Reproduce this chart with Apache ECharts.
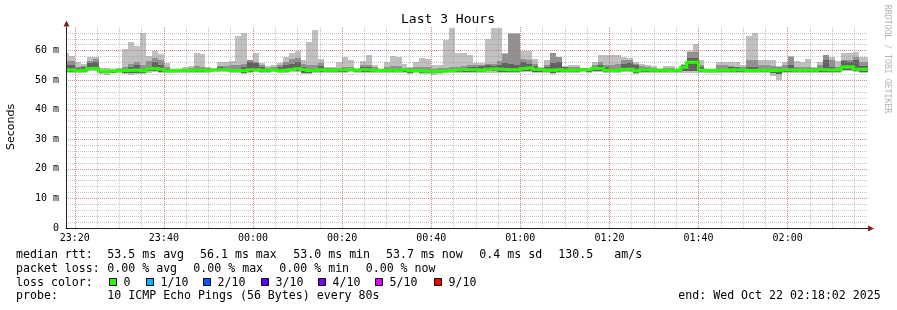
<!DOCTYPE html>
<html><head><meta charset="utf-8">
<script src="https://cdn.jsdelivr.net/npm/echarts@6/dist/echarts.min.js"></script>
<style>html,body{margin:0;padding:0;background:#fff}#c{width:897px;height:310px}</style>
</head><body><div id="c"></div>
<script>
// ---- data (ms), one value per 80 s step ----
const lowSmoke = [
52.6,52.6,52.4,52.6,53.0,53.0,52.0,51.9,52.3,52.4,
52.0,51.9,52.0,52.1,52.6,52.8,52.6,52.3,52.6,52.6,
52.5,52.6,52.5,52.4,52.5,52.8,52.7,52.7,52.3,52.3,
52.2,52.6,52.8,52.6,52.6,52.7,52.3,52.5,52.7,52.8,
52.2,52.1,52.3,52.4,52.4,52.5,52.6,52.6,52.7,52.6,
52.6,52.4,52.4,52.5,52.4,52.4,52.3,52.6,52.2,52.4,
52.1,52.0,51.9,52.1,52.3,52.3,52.4,52.6,52.5,52.5,
52.4,52.6,52.6,52.4,52.4,52.3,52.3,52.9,52.9,52.6,
52.6,52.3,52.2,52.4,52.3,52.4,52.5,52.7,52.6,52.9,
52.9,52.5,52.4,52.5,52.7,52.7,52.2,52.6,52.6,52.5,
52.6,52.5,52.3,52.5,52.6,52.3,52.3,52.4,52.3,52.3,
52.5,52.5,52.4,52.6,52.6,52.3,52.3,52.5,52.3,51.5,
50.0,52.4,52.5,52.4,52.4,52.5,52.3,52.6,52.5,52.6,
52.6,53.0,53.0,52.8,52.6,52.6];
const lowMid = [
52.9,52.9,52.8,52.9,53.3,53.3,52.4,52.3,52.6,52.7,
52.5,52.4,52.5,52.5,53.0,53.1,52.9,52.7,52.9,52.9,
52.8,52.9,52.8,52.8,52.8,53.0,53.0,53.0,52.7,52.7,
52.6,52.9,53.0,52.9,52.9,53.0,52.7,52.8,53.0,53.1,
52.6,52.5,52.7,52.8,52.8,52.8,52.9,52.9,53.0,52.9,
52.9,52.8,52.8,52.8,52.8,52.8,52.7,52.9,52.6,52.7,
52.5,52.4,52.4,52.5,52.7,52.7,52.8,52.9,52.9,52.9,
52.8,53.0,53.0,52.8,52.8,52.7,52.7,53.2,53.2,52.9,
52.9,52.7,52.6,52.8,52.7,52.8,52.8,53.0,52.9,53.2,
53.2,52.8,52.7,52.8,53.0,53.0,52.6,52.9,52.9,52.8,
52.9,52.8,52.7,52.8,53.0,53.2,53.2,52.8,52.7,52.7,
52.8,52.8,52.8,52.9,52.9,52.7,52.7,52.8,52.7,52.4,
52.0,52.8,52.9,52.8,52.8,52.8,52.7,52.9,52.8,52.9,
52.9,53.3,53.3,53.1,52.9,52.9];
const highSmoke = [
59.1,58.3,56.3,55.5,58.0,58.0,54.0,54.0,53.8,54.2,
60.7,63.0,61.6,66.1,58.3,59.9,59.0,55.7,53.8,53.8,
54.3,54.9,59.1,58.9,54.6,53.7,56.3,56.3,56.6,64.8,
65.9,57.0,59.1,55.7,54.9,55.0,55.7,58.0,59.3,60.0,
56.9,62.8,67.0,57.3,54.4,54.5,56.0,58.0,56.7,53.8,
56.5,58.5,55.0,53.8,56.3,58.3,58.0,55.5,54.5,56.2,
57.6,57.2,55.2,55.2,63.6,67.5,59.1,59.1,58.5,55.8,
55.8,63.8,67.6,67.6,59.2,66.1,66.1,59.9,59.9,57.1,
54.6,56.9,59.3,58.0,54.7,55.1,55.1,54.0,53.7,56.3,
58.5,58.4,58.6,58.5,57.8,57.5,56.2,55.5,55.0,54.8,
53.8,54.7,54.7,53.8,55.4,59.8,62.1,56.8,53.8,53.8,
56.2,56.2,56.0,56.3,55.0,64.8,66.1,57.0,57.0,56.8,
54.9,56.0,58.3,56.4,56.0,57.3,54.3,56.3,58.5,58.0,
56.4,59.1,59.1,59.5,57.7,57.7];
const highMid = [
56.5,56.5,54.3,54.8,56.5,57.2,53.5,53.4,53.6,53.8,
54.5,55.5,56.2,55.3,56.4,57.4,56.7,54.5,53.6,53.6,
53.9,54.2,54.7,54.6,54.0,53.6,54.8,54.8,55.0,55.2,
55.4,57.0,56.3,55.3,54.2,54.5,55.2,56.0,57.2,57.5,
55.5,55.3,55.0,55.7,54.0,54.0,54.2,54.5,54.3,53.6,
55.0,55.0,54.5,53.6,54.6,54.8,54.7,54.0,54.0,54.5,
54.6,54.4,53.9,54.0,54.2,54.4,54.6,54.8,55.0,55.0,
55.2,55.5,55.5,56.5,58.9,65.8,65.8,57.3,57.0,55.5,
54.2,55.0,59.2,58.0,54.6,54.6,54.4,53.8,53.6,55.0,
56.0,55.0,55.0,55.5,56.9,56.9,55.5,54.8,54.6,54.2,
53.6,54.0,54.0,53.6,55.3,59.7,59.7,55.2,53.6,53.6,
55.0,55.0,54.8,54.6,54.6,57.0,57.0,55.2,55.2,54.8,
54.3,55.0,58.0,54.6,54.6,54.6,54.0,55.0,58.5,57.0,
54.5,57.0,57.0,58.0,56.3,56.3];
const highDark = [
55.3,55.3,54.0,54.3,55.8,56.2,53.2,53.1,53.3,53.5,
53.8,54.3,55.0,53.8,54.6,56.0,55.0,53.8,53.4,53.5,
53.6,53.8,53.9,53.9,53.6,53.7,54.5,54.2,53.8,53.8,
54.3,56.0,55.8,54.5,53.8,53.9,54.6,55.0,55.5,56.0,
54.5,53.8,53.8,54.8,53.7,53.7,53.8,53.9,53.9,53.6,
54.6,54.6,53.8,53.5,53.8,53.9,53.8,53.8,53.5,53.7,
53.6,53.5,53.4,53.4,53.6,53.7,53.9,54.0,54.3,54.5,
54.8,55.0,54.8,55.3,55.8,55.5,55.0,56.0,55.5,54.8,
53.9,54.6,55.8,56.0,54.3,53.8,53.8,53.8,53.7,54.4,
55.0,54.5,53.8,53.9,55.5,55.8,55.0,54.0,53.9,53.8,
53.6,53.7,53.6,53.6,55.0,57.5,57.5,54.5,53.5,53.5,
53.9,53.9,54.3,54.3,53.9,54.6,54.6,53.9,53.8,53.7,
53.7,53.9,55.3,53.9,53.8,53.8,53.7,54.0,57.0,54.6,
53.9,56.5,56.0,57.0,54.8,54.8];
const medianRtt = [
53.5,53.5,53.2,53.4,54.0,54.0,53.0,53.0,53.1,53.2,
53.3,53.4,53.4,53.2,53.9,53.9,53.7,53.2,53.2,53.3,
53.3,53.4,53.4,53.4,53.3,53.5,53.6,53.6,53.3,53.3,
53.2,53.5,53.5,53.4,53.4,53.5,53.2,53.4,53.6,53.9,
53.6,53.3,53.4,53.5,53.4,53.4,53.5,53.5,53.6,53.4,
53.6,53.5,53.4,53.3,53.4,53.4,53.3,53.5,53.2,53.3,
53.1,53.0,53.0,53.0,53.2,53.3,53.5,53.6,53.6,53.5,
53.4,53.7,53.8,53.7,53.6,53.5,53.5,54.0,54.1,53.7,
53.6,53.4,53.4,53.5,53.4,53.4,53.4,53.6,53.5,54.0,
54.0,53.4,53.3,53.4,53.7,53.7,53.2,53.5,53.5,53.4,
53.4,53.4,53.3,53.4,54.4,56.1,56.1,53.4,53.2,53.2,
53.4,53.4,53.4,53.5,53.5,53.3,53.3,53.4,53.4,53.3,
53.4,53.5,53.5,53.4,53.4,53.4,53.4,53.6,53.5,53.5,
53.5,54.5,54.5,53.7,53.7,53.7];

// legend texts
const legendRows = [
  [["median rtt:",16],["53.5 ms avg",107.3],["56.1 ms max",200],["53.0 ms min",293.3],["53.7 ms now",386],["0.4 ms sd",479.3],["130.5",558.3],["am/s",614.3]],
  [["packet loss:",16],["0.00 % avg",107.3],["0.00 % max",193.3],["0.00 % min",279.3],["0.00 % now",365.7]],
  [["loss color:",16]],
  [["probe:",16],["10 ICMP Echo Pings (56 Bytes) every 80s",107.3],["end: Wed Oct 22 02:18:02 2025",678.3]]
];
const lossLabels = ["0","1/10","2/10","3/10","4/10","5/10","9/10"];
const lossColors = ["#26ff00","#00b8ff","#0059ff","#5e00ff","#7e00ff","#dd00ff","#ff0000"];
const lossBoxX = [109.5,146.5,203.5,261.5,318.5,375.5,434.5];

// ---- time grid ----
const START_MIN = 18 + 2/60;        // 23:18:02, minutes after 23:00
const SPAN_MIN = 180;
const FIRST_STEP_END = 18 + 40/60;  // 23:18:40
const STEP_MIN = 80/60;
const stepEnds = highSmoke.map((_, i) => FIRST_STEP_END + i * STEP_MIN);

const MONO = "'DejaVu Sans Mono', 'Liberation Mono', monospace";
const chart = echarts.init(document.getElementById('c'), null, {renderer: 'canvas'});

function band(lo, hi, color) {
  return {
    type: 'custom', clip: true, silent: true, animation: false, z: 2,
    data: stepEnds.map((t, i) => [t, lo[i], hi[i]]),
    encode: {x: 0, y: [1, 2]},
    renderItem(params, api) {
      const a = api.coord([api.value(0) - STEP_MIN, api.value(2)]);
      const b = api.coord([api.value(0), api.value(1)]);
      const x1 = Math.round(a[0]), x2 = Math.round(b[0]);
      const y1 = Math.round(a[1]), y2 = Math.round(b[1]);
      return {type: 'rect', shape: {x: x1, y: y1, width: x2 - x1, height: Math.max(y2 - y1, 0)}, style: {fill: color}};
    }
  };
}

const pad = n => (n < 10 ? '0' : '') + n;
const gridStyle = {color: 'rgba(143,143,143,0.5)', type: [1, 1], width: 1};
const mgridStyle = {color: 'rgba(222,79,79,0.5)', type: [1, 1], width: 1};

const graphics = [];
graphics.push({type: 'text', x: 448, y: 20, style: {text: 'Last 3 Hours', font: '13px ' + MONO, fill: '#000', align: 'center', verticalAlign: 'middle'}});
graphics.push({type: 'text', x: 11, y: 127, rotation: Math.PI / 2, style: {text: 'Seconds', font: "11px 'DejaVu Sans', sans-serif", fill: '#000', align: 'center', verticalAlign: 'middle'}});
graphics.push({type: 'text', x: 887, y: 59, rotation: -Math.PI / 2, style: {text: 'RRDTOOL / TOBI OETIKER', font: '8.2px ' + MONO, fill: '#b4b4b4', align: 'center', verticalAlign: 'middle'}});
graphics.push({type: 'polygon', shape: {points: [[63.5, 26.5], [69.5, 26.5], [66.5, 20.5]]}, style: {fill: '#801f1f'}, z: 20});
graphics.push({type: 'polygon', shape: {points: [[868, 225.5], [868, 231.5], [874, 228.5]]}, style: {fill: '#801f1f'}, z: 20});
const rowY = [255, 268.5, 282.5, 296];
legendRows.forEach((row, r) => row.forEach(([t, x]) => graphics.push({
  type: 'text', x: x, y: rowY[r], style: {text: t, font: '11.6px ' + MONO, fill: '#000', verticalAlign: 'middle'}
})));
lossLabels.forEach((lab, i) => {
  graphics.push({type: 'rect', shape: {x: lossBoxX[i], y: 278.5, width: 7, height: 7}, style: {fill: lossColors[i], stroke: '#000', lineWidth: 1}});
  graphics.push({type: 'text', x: lossBoxX[i] + 14, y: 282.5, style: {text: lab, font: '11.6px ' + MONO, fill: '#000', verticalAlign: 'middle'}});
});

chart.setOption({
  backgroundColor: '#fff',
  animation: false,
  grid: {left: 66, right: 29, top: 27, bottom: 82, containLabel: false, outerBoundsMode: 'none'},
  xAxis: [
    {type: 'value', position: 'top', min: START_MIN, max: START_MIN + SPAN_MIN, splitNumber: 36, minInterval: 5, maxInterval: 5, z: 10,
     axisLine: {show: false}, axisTick: {show: false}, axisLabel: {show: false},
     splitLine: {show: true, showMinLine: false, showMaxLine: false, lineStyle: gridStyle}},
    {type: 'value', position: 'bottom', min: START_MIN, max: START_MIN + SPAN_MIN, splitNumber: 9, minInterval: 20, maxInterval: 20, z: 11,
     axisLine: {show: true, onZero: false, lineStyle: {color: '#1f1f1f', width: 1}}, axisTick: {show: false},
     axisLabel: {margin: 5, color: '#000', fontFamily: 'DejaVu Sans Mono', fontSize: 10,
       formatter: v => { if (Math.abs(v % 20) > 1e-6) return ''; const m = (23 * 60 + Math.round(v)) % 1440; return pad(Math.floor(m / 60)) + ':' + pad(m % 60); }},
     splitLine: {show: true, showMinLine: false, showMaxLine: false, lineStyle: mgridStyle}}
  ],
  yAxis: [
    {type: 'value', position: 'right', min: 0, max: 68, interval: 2, z: 10,
     axisLine: {show: false}, axisTick: {show: false}, axisLabel: {show: false},
     splitLine: {show: true, showMinLine: false, showMaxLine: false, lineStyle: gridStyle}},
    {type: 'value', position: 'left', min: 0, max: 68, interval: 10, z: 11,
     axisLine: {show: true, onZero: false, lineStyle: {color: '#1f1f1f', width: 1}}, axisTick: {show: false},
     axisLabel: {margin: 7, color: '#000', fontFamily: 'DejaVu Sans Mono', fontSize: 10,
       formatter: v => (Math.abs(v % 10) > 1e-6 ? '' : (v === 0 ? '0' : v + ' m'))},
     splitLine: {show: true, showMinLine: false, showMaxLine: false, lineStyle: mgridStyle}}
  ],
  series: [
    band(lowSmoke, highSmoke, '#c0c0c0'),
    band(lowMid, highMid, '#919191'),
    band(lowMid, highDark, '#616161'),
    {
      type: 'custom', clip: true, silent: true, animation: false, z: 3,
      data: stepEnds.map((t, i) => [t, medianRtt[i], medianRtt[i > 0 ? i - 1 : i]]),
      encode: {x: 0, y: 1},
      renderItem(params, api) {
        const t = api.value(0);
        const p0 = api.coord([t - STEP_MIN, api.value(2)]);
        const p1 = api.coord([t - STEP_MIN, api.value(1)]);
        const p2 = api.coord([t, api.value(1)]);
        return {type: 'polyline', shape: {points: [p0, p1, p2]}, style: {stroke: '#26ff00', lineWidth: 3, fill: null, lineCap: 'square'}};
      }
    }
  ],
  graphic: graphics
});
</script></body></html>
